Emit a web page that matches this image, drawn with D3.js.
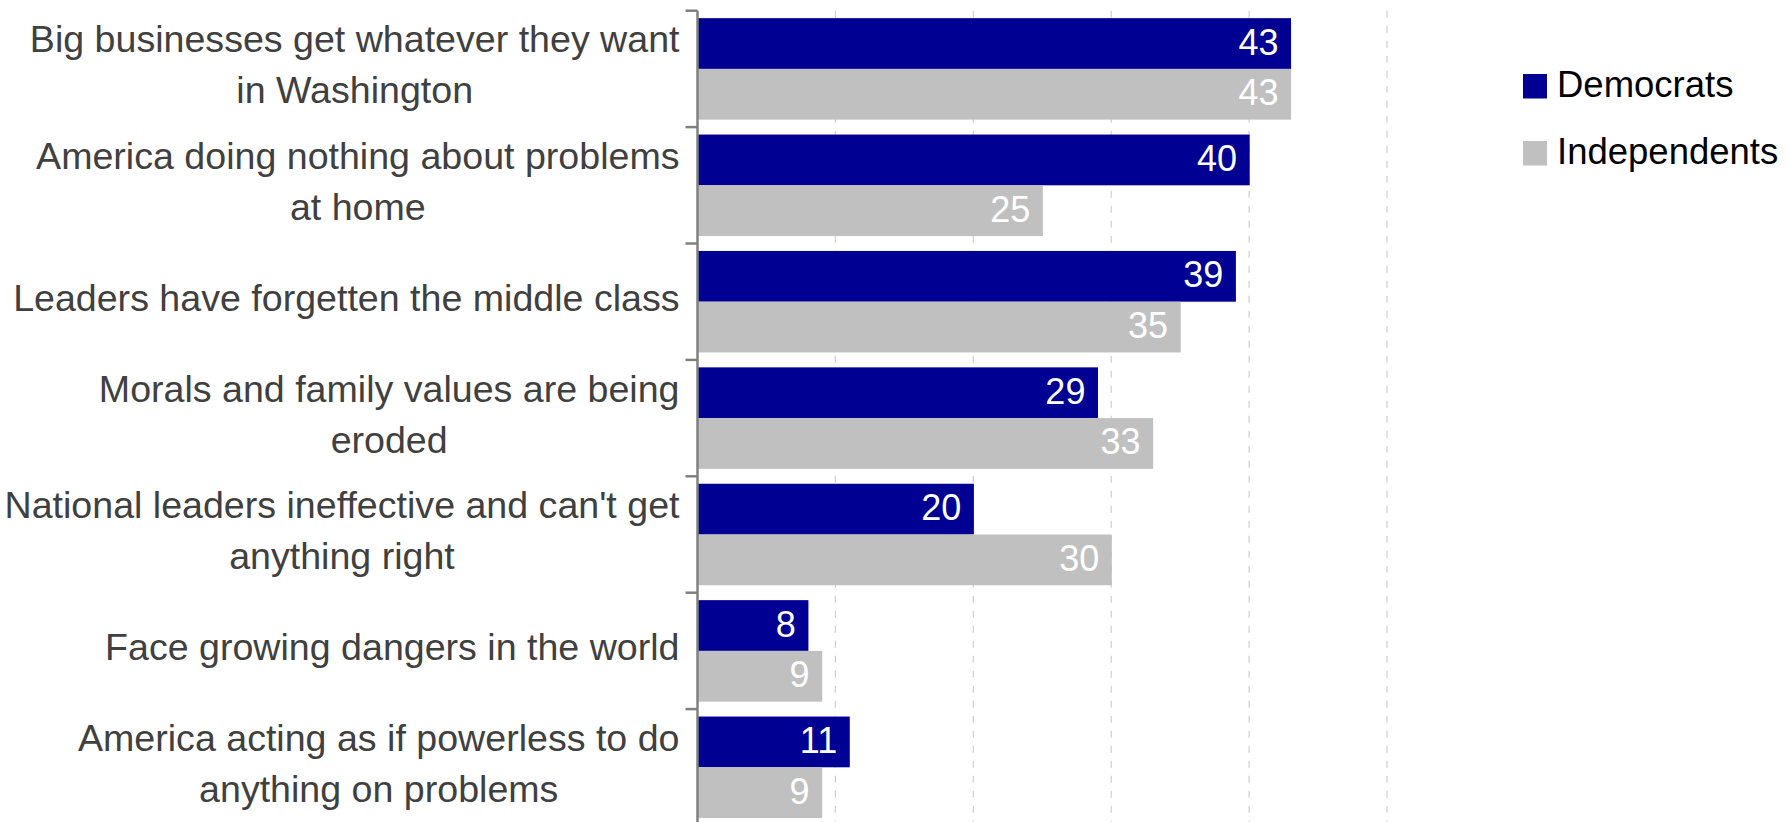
<!DOCTYPE html>
<html>
<head>
<meta charset="utf-8">
<script src="https://cdn.jsdelivr.net/npm/d3@7"></script>
<style>
  html, body { margin: 0; padding: 0; background: #ffffff; }
  svg { display: block; }
  text { font-family: "Liberation Sans", Arial, sans-serif; }
</style>
</head>
<body>
<svg id="chart" width="1789" height="822"></svg>
<script>
// ---- data ----
const categories = [
  "Big businesses get whatever they want\nin Washington",
  "America doing nothing about problems\nat home",
  "Leaders have forgetten the middle class",
  "Morals and family values are being\neroded",
  "National leaders ineffective and can't get\nanything right",
  "Face growing dangers in the world",
  "America acting as if powerless to do\nanything on problems"
];
const seriesNames = ["Democrats", "Independents"];
const democrats = [43, 40, 39, 29, 20, 8, 11];
const independents = [43, 25, 35, 33, 30, 9, 9];
const xTicks = [10, 20, 30, 40, 50];
const seriesColors = ["#000092", "#c0c0c0"];

// ---- layout ----
const W = 1789, H = 822;
const svg = d3.select("#chart");

const x = d3.scaleLinear().domain([0, 50]).range([697.5, 1387]);
const y0 = d3.scaleBand().domain(categories).range([10.7, 825.5])
  .paddingInner(0.128).paddingOuter(0.064);
const y1 = d3.scaleBand().domain(seriesNames).range([0, y0.bandwidth()]);
const color = d3.scaleOrdinal().domain(seriesNames).range(seriesColors);

const rows = categories.map((c, i) => ({
  cat: c,
  values: [
    { series: "Democrats", value: democrats[i] },
    { series: "Independents", value: independents[i] }
  ]
}));

// gridlines
const [yTop, yBot] = y0.range();
svg.append("g").selectAll("line").data(xTicks).join("line")
  .attr("x1", d => x(d)).attr("x2", d => x(d))
  .attr("y1", yTop).attr("y2", H)
  .attr("stroke", "#cfcfcf").attr("stroke-width", 1.2)
  .attr("stroke-dasharray", "7,8");

// bars
const groups = svg.append("g").selectAll("g").data(rows).join("g")
  .attr("transform", d => `translate(0,${y0(d.cat)})`);

groups.selectAll("rect").data(d => d.values).join("rect")
  .attr("x", x(0))
  .attr("y", d => y1(d.series))
  .attr("width", d => x(d.value) - x(0) + 0.6)
  .attr("height", y1.bandwidth())
  .attr("fill", d => color(d.series));

groups.selectAll("text").data(d => d.values).join("text")
  .attr("x", d => x(d.value) - 12)
  .attr("y", d => y1(d.series) + y1.bandwidth() / 2 + 11)
  .attr("text-anchor", "end")
  .attr("fill", "#ffffff")
  .attr("font-size", 36)
  .text(d => d.value);

// axis line + ticks at category boundaries
const step = y0.step();
const boundaries = d3.range(categories.length + 1).map(i => yTop + i * step);
const axisG = svg.append("g");
axisG.append("line")
  .attr("x1", x(0)).attr("x2", x(0))
  .attr("y1", yTop).attr("y2", H)
  .attr("stroke", "#808080").attr("stroke-width", 2.5);
axisG.selectAll("line.tick").data(boundaries).join("line")
  .attr("class", "tick")
  .attr("x1", x(0) - 12).attr("x2", x(0))
  .attr("y1", d => d).attr("y2", d => d)
  .attr("stroke", "#808080").attr("stroke-width", 2.5);

// category labels (multi-line, centered block, right aligned to axis)
const labelRight = x(0) - 18;
const lineH = 51;
const labG = svg.append("g");
categories.forEach(c => {
  const lines = c.split("\n");
  const cy = y0(c) + y0.bandwidth() / 2;
  const g = labG.append("g");
  const ts = lines.map((ln, i) => g.append("text")
    .attr("y", cy + (i - (lines.length - 1) / 2) * lineH + 9)
    .attr("text-anchor", "middle")
    .attr("fill", "#404040")
    .attr("font-size", 37.6)
    .text(ln));
  const maxW = d3.max(ts, t => t.node().getComputedTextLength());
  ts.forEach(t => t.attr("x", labelRight - maxW / 2));
});

// legend
const leg = svg.append("g").attr("transform", "translate(1523,74)");
const legItems = leg.selectAll("g").data(seriesNames).join("g")
  .attr("transform", (d, i) => `translate(0,${i * 67})`);
legItems.append("rect")
  .attr("width", 24).attr("height", 24.5)
  .attr("fill", d => color(d));
legItems.append("text")
  .attr("x", 34).attr("y", 22.7)
  .attr("font-size", 36.5)
  .attr("fill", "#000000")
  .text(d => d);
</script>
</body>
</html>
